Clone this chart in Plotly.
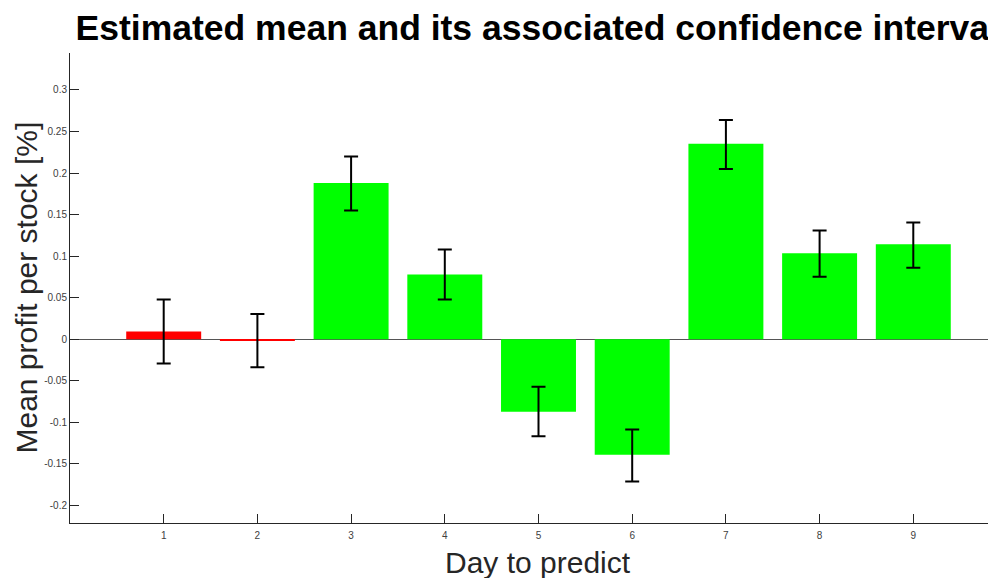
import plotly.graph_objects as go

days = [1, 2, 3, 4, 5, 6, 7, 8, 9]
mean_profit = [0.0095, -0.0015, 0.188, 0.078, -0.087, -0.139, 0.2352, 0.1035, 0.1145]
err_plus = [0.0385, 0.032, 0.032, 0.030, 0.030, 0.0305, 0.0288, 0.0273, 0.026]
err_minus = [0.0385, 0.032, 0.033, 0.030, 0.0295, 0.032, 0.0304, 0.0283, 0.0285]
bar_colors = ["#ff0000", "#ff0000", "#00ff00", "#00ff00", "#00ff00",
              "#00ff00", "#00ff00", "#00ff00", "#00ff00"]
y_ticks = [-0.2, -0.15, -0.1, -0.05, 0, 0.05, 0.1, 0.15, 0.2, 0.25, 0.3]
y_tick_text = ["-0.2", "-0.15", "-0.1", "-0.05", "0", "0.05", "0.1", "0.15", "0.2", "0.25", "0.3"]
x_ticks = days
x_tick_text = [str(d) for d in days]

AX = "#262626"
FONT = "Liberation Sans, Arial, Helvetica, sans-serif"

# page has an 8px body margin; figure is laid out in its own coordinates
OFF = 8
W, H = 996 - OFF, 578 - OFF
L = 69.5 - OFF
T = 53 - OFF
BOT = 523 - OFF
B = H - BOT
PW = W - L
PH = BOT - T
px_per_day = 93.75

fig = go.Figure()
fig.add_trace(go.Bar(
    x=days, y=mean_profit, width=0.8,
    marker=dict(color=bar_colors, line=dict(width=0)),
    error_y=dict(type="data", symmetric=False, array=err_plus, arrayminus=err_minus,
                 color="black", thickness=2, width=7),
    showlegend=False,
))

fig.update_layout(
    width=W, height=H,
    margin=dict(l=L, r=0, t=T, b=B, pad=0, autoexpand=False),
    paper_bgcolor="white", plot_bgcolor="white",
    font=dict(family=FONT, color=AX),
    title=dict(text="<b>Estimated mean and its associated confidence interval</b>",
               font=dict(family=FONT, size=35.5, color="black"),
               xref="paper", x=(537 - OFF - L) / PW, xanchor="center",
               yref="container", y=1 - (28 - OFF) / H, yanchor="middle"),
    xaxis=dict(range=[0, PW / px_per_day], tickvals=x_ticks, ticktext=x_tick_text,
               ticks="inside", ticklen=9, tickcolor=AX, tickwidth=1,
               ticklabelstandoff=3, automargin=False,
               showline=True, linecolor=AX, linewidth=1, showgrid=False, zeroline=False,
               tickfont=dict(size=10, color="#404040"), fixedrange=True),
    yaxis=dict(range=[-0.221, 0.3445], tickvals=y_ticks, ticktext=y_tick_text,
               ticks="inside", ticklen=9, tickcolor=AX, tickwidth=1, automargin=False,
               showline=True, linecolor=AX, linewidth=1, showgrid=False,
               zeroline=True, zerolinecolor="#555555", zerolinewidth=1,
               tickfont=dict(size=10, color="#404040"), fixedrange=True),
    annotations=[
        dict(text="Day to predict", xref="paper", yref="paper",
             x=(538 - OFF - L) / PW, y=(BOT - (562 - OFF)) / PH,
             xanchor="center", yanchor="middle", showarrow=False,
             font=dict(family=FONT, size=30, color=AX)),
        dict(text="Mean profit per stock [%]", xref="paper", yref="paper",
             x=(25 - OFF - L) / PW, y=0.5, textangle=-90,
             xanchor="center", yanchor="middle", showarrow=False,
             font=dict(family=FONT, size=30, color=AX)),
    ],
)

fig.write_html("out.html")
